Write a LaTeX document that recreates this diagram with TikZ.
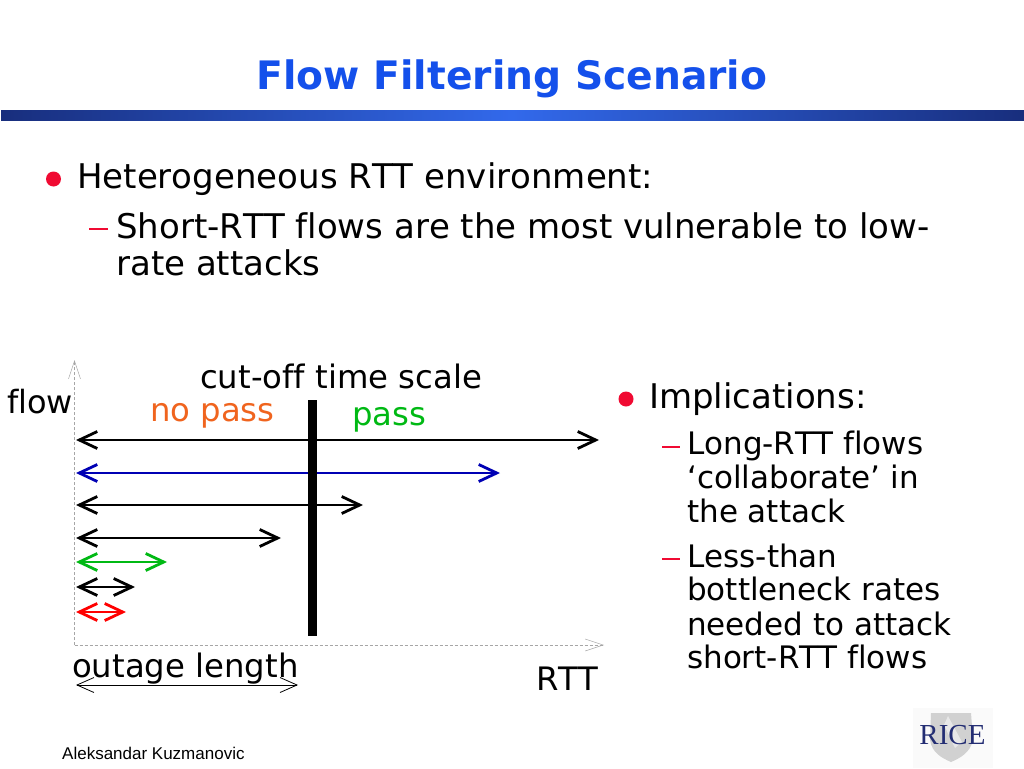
\documentclass[tikz,border=0pt]{standalone}
\usepackage{fontspec}
\setmainfont[Ligatures=NoCommon,Kerning=Off]{DejaVu Sans}
\newfontfamily\footfont{Liberation Sans}
\newfontfamily\logofont{Liberation Serif}
\usetikzlibrary{arrows.meta,shadings}
\definecolor{titleblue}{RGB}{20,80,235}
\definecolor{bardark}{RGB}{24,46,125}
\definecolor{barbright}{RGB}{50,105,235}
\definecolor{bulletred}{RGB}{240,10,50}
\definecolor{nopass}{RGB}{240,100,30}
\definecolor{passgreen}{RGB}{0,185,20}
\definecolor{flowblue}{RGB}{0,0,180}
\definecolor{ricenavy}{RGB}{35,45,115}
\tikzset{
  x=1pt,y=-1pt,
  txt/.style={inner sep=0pt,anchor=base west,font=\fontsize{#1}{#1}\selectfont,text=black},
  flowarrow/.style={line width=2.8pt,{Straight Barb[length=18pt,width=17pt,line width=2.8pt]}-{Straight Barb[length=18pt,width=17pt,line width=2.8pt]}},
  thinarrow/.style={line width=1pt,black,{Straight Barb[length=17pt,width=15pt,line width=.8pt]}-{Straight Barb[length=17pt,width=15pt,line width=.8pt]}},
  axisline/.style={gray!70,line width=.7pt,densely dashed,-{Straight Barb[length=18pt,width=12pt,line width=.5pt]}}
}
\begin{document}
\begin{tikzpicture}
\useasboundingbox (0,0) rectangle (1024,768);
\fill[white] (0,0) rectangle (1024,768);
% title
\node[inner sep=0pt,anchor=base,font=\fontsize{39.2}{40}\selectfont\bfseries,text=titleblue] (title) at (512,89) {Flow Filtering Scenario};
% header bar
\shade[left color=bardark,right color=barbright,shading angle=90,draw=none] (1,110) rectangle (512,120);
\shade[left color=barbright,right color=bardark,shading angle=90,draw=none] (512,110) rectangle (1024,120);
% bullets
\fill[bulletred] (53.5,179) circle (7.5);
\node[txt=34] (h1) at (77,188) {Heterogeneous RTT environment:};
\fill[bulletred] (89,227.5) rectangle (108,229.5);
\node[txt=34] (h2) at (116,238) {Short-RTT flows are the most vulnerable to low-};
\node[txt=34] (h3) at (116,275) {rate attacks};
% right column
\fill[bulletred] (626,399) circle (7.5);
\node[txt=34] (r0) at (649,408) {Implications:};
\fill[bulletred] (662,446) rectangle (680,448);
\node[txt=31] (r1) at (687,454) {Long-RTT flows};
\node[txt=31] (r2) at (687,488) {`collaborate' in};
\node[txt=31] (r3) at (687,522) {the attack};
\fill[bulletred] (662,558) rectangle (680,560);
\node[txt=31] (r4) at (687,567) {Less-than};
\node[txt=31] (r5) at (687,600) {bottleneck rates};
\node[txt=31] (r6) at (687,635) {needed to attack};
\node[txt=31] (r7) at (687,668) {short-RTT flows};
% axes
\coordinate (origin) at (74.5,645);
\coordinate (ytop) at (74.5,360);
\coordinate (xend) at (604,645);
\draw[axisline] (origin) -- (ytop);
\draw[axisline] (origin) -- (xend);
% flow arrows
\foreach \n/\y/\xe/\c in {a/440/599/black,b/473/500/flowblue,c/505/363/black,d/538/281/black,e/562/167/passgreen,f/587/135/black,g/612/126/red}{
  \coordinate (\n l) at (76,\y);
  \coordinate (\n r) at (\xe,\y);
  \draw[flowarrow,draw=\c] (\n l) -- (\n r);
}
% cut-off bar
\fill[black] (307.5,400) rectangle (316.5,635.5);
% labels
\node[txt=32.3] (cut) at (200,388) {cut-off time scale};
\node[txt=32] (flow) at (7,413) {flow};
\node[txt=32.3,text=nopass] (np) at (150,421) {no pass};
\node[txt=32.3,text=passgreen] (pass) at (352,425) {pass};
\node[txt=32.3] (out) at (72,677) {outage length};
\node[txt=32.3] (rtt) at (536,690) {RTT};
\coordinate (ol) at (76,685);
\coordinate (or) at (298,685);
\draw[thinarrow] (ol) -- (or);
% footer
\node[inner sep=0pt,anchor=base west,font=\footfont\fontsize{17}{17}\selectfont] (author) at (62,759) {Aleksandar Kuzmanovic};
% logo
\fill[black!2] (913,708) rectangle (993,768);
\fill[black!18] (931,713) -- (971,713) -- (973,740) .. controls (970,753) and (960,758) .. (951,762) .. controls (942,758) and (932,753) .. (930,740) -- cycle;
\fill[white!70!black!30] (948,716) -- (962,742) -- (955,748) -- (944,725) -- cycle;
\node[inner sep=0pt,anchor=base,font=\logofont\fontsize{29}{29}\selectfont,text=ricenavy] (rice) at (952.5,744) {RICE};
\end{tikzpicture}
\end{document}
